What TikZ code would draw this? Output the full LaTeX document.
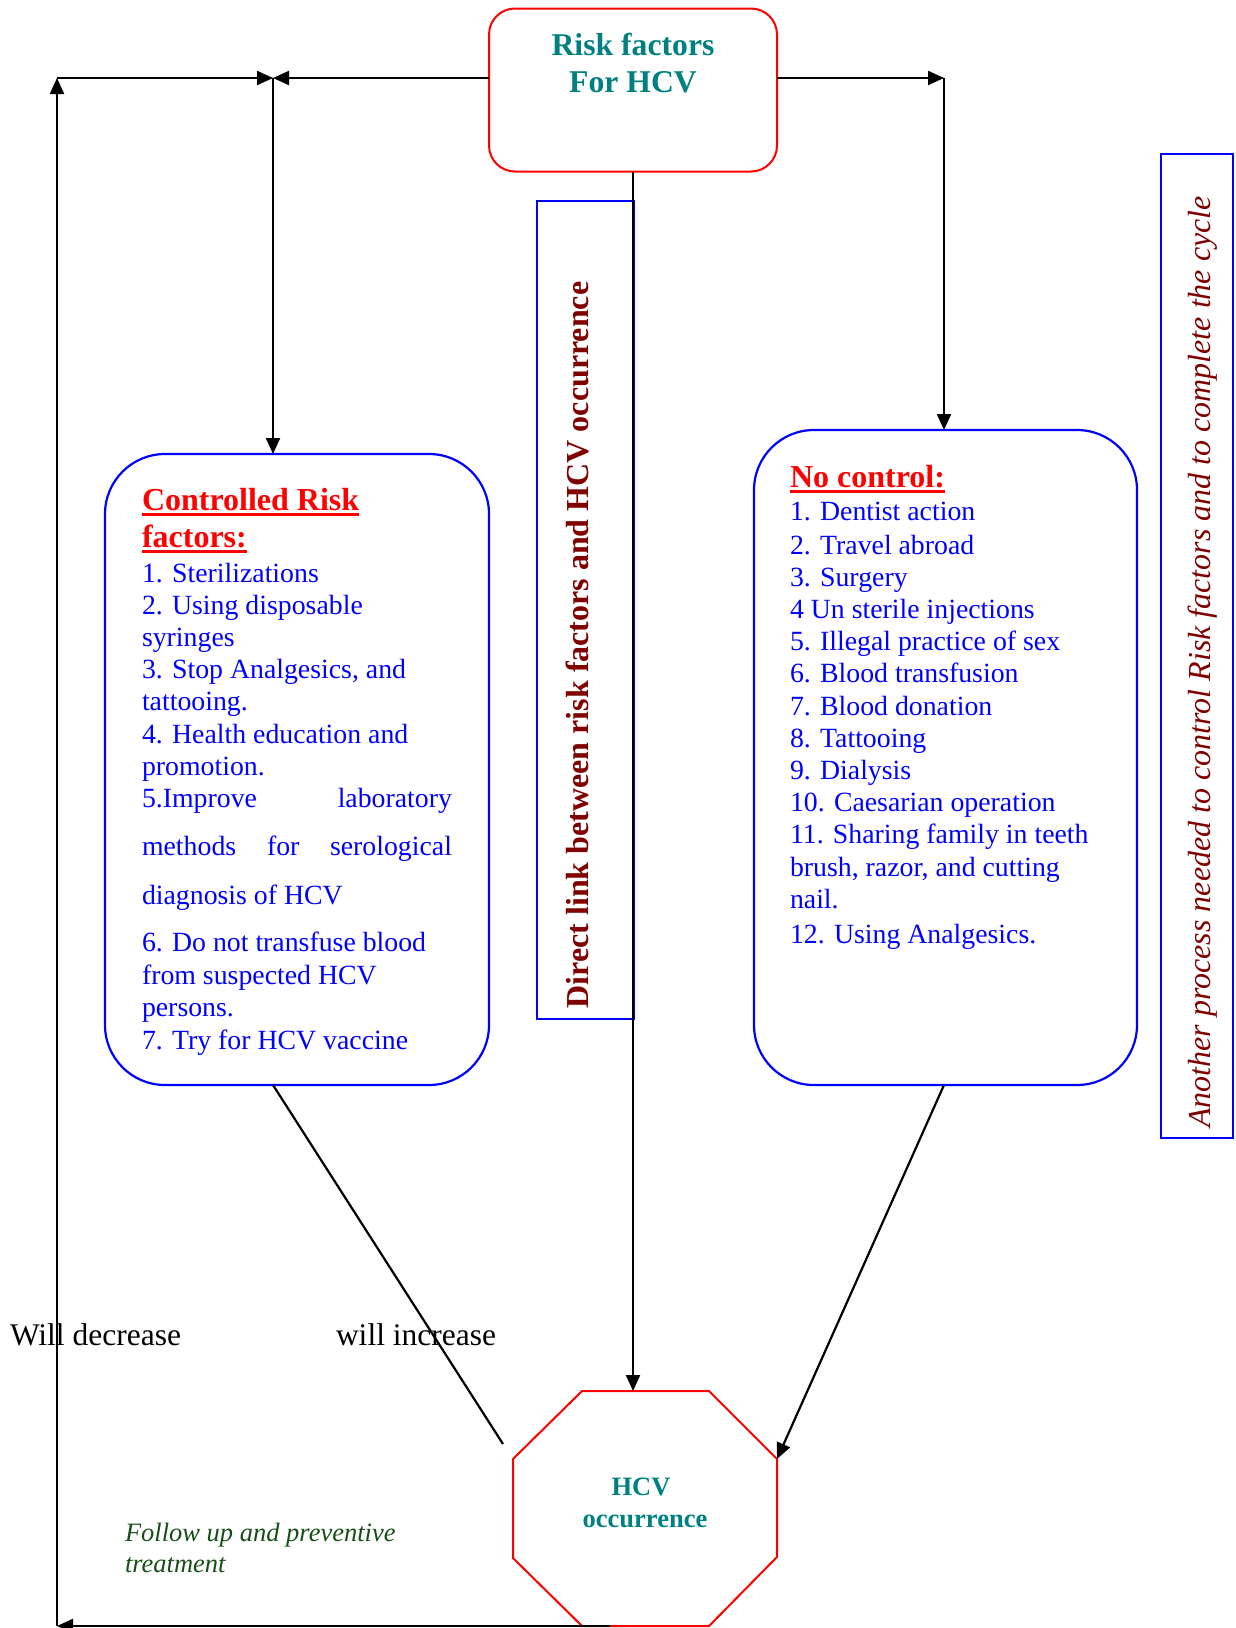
\documentclass[tikz,border=0pt]{standalone}
\usepackage{fontspec}
\setmainfont{Liberation Serif}
\usetikzlibrary{arrows.meta}
\definecolor{hcvteal}{RGB}{0,128,128}
\definecolor{hcvblue}{RGB}{0,0,255}
\definecolor{hcvred}{RGB}{255,0,0}
\definecolor{hcvdred}{RGB}{128,0,0}
\definecolor{hcvgreen}{RGB}{22,78,22}
\begin{document}
\begin{tikzpicture}[x=1pt,y=-1pt,
  every node/.style={inner sep=0pt, outer sep=0pt},
  conn/.style={line width=2.2pt, draw=black},
  tipped/.style={-{Triangle[length=16pt,width=14pt]}},
  bluebox/.style={draw=hcvblue, line width=2.2pt, rounded corners=60pt},
  redbox/.style={draw=hcvred, line width=2pt},
  fixh/.style={text height=0.7em, text depth=0.25em},
  dn/.style={yshift=-7.5pt},
  item/.style={fixh, dn, anchor=west, text=hcvblue, font=\fontsize{27.8}{32}\selectfont},
  itemr/.style={fixh, dn, anchor=east, text=hcvblue, font=\fontsize{27.8}{32}\selectfont},
  head/.style={fixh, dn, anchor=west, text=hcvred, font=\fontsize{32}{37}\selectfont\bfseries},
  tealtxt/.style={fixh, dn, text=hcvteal, font=\fontsize{31.7}{37}\selectfont\bfseries},
  occtxt/.style={fixh, dn, text=hcvteal, font=\fontsize{26.5}{32}\selectfont\bfseries},
  plain/.style={fixh, dn, anchor=west, text=black, font=\fontsize{31.5}{36}\selectfont},
  greentxt/.style={anchor=base west, text=hcvgreen, font=\fontsize{26.5}{31}\selectfont\itshape},
]
\useasboundingbox (0,0) rectangle (1235,1628);

% ---- boxes ----
\node[redbox, rounded corners=26pt, minimum width=288pt, minimum height=163pt] (top) at (633,90) {};
\node[bluebox, minimum width=384pt, minimum height=631pt] (lbox) at (297,769.5) {};
\node[bluebox, minimum width=383pt, minimum height=655pt] (rbox) at (945.5,757.5) {};
\node[draw=hcvblue, line width=2.2pt, minimum width=97pt, minimum height=818pt] (dlink) at (585.5,610) {};
\node[draw=hcvblue, line width=2.2pt, minimum width=72pt, minimum height=984pt] (another) at (1197,646) {};

% ---- octagon ----
\coordinate (occN) at (633,1391);
\coordinate (occNE) at (777,1459);
\coordinate (occS) at (610,1626);
\draw[redbox] (582,1391) -- (709,1391) -- (777,1459) -- (777,1557) -- (709,1626)
  -- (582,1626) -- (513,1558) -- (513,1459) -- cycle;
\node[occtxt] (occ1) at (641,1486) {HCV};
\node[occtxt] (occ2) at (645,1518) {occurrence};

% ---- top box text ----
\node[tealtxt] (rf1) at (633,46) {Risk factors};
\node[tealtxt] (rf2) at (633,83) {For HCV};

% ---- vertical labels ----
\node[rotate=90, text=hcvdred, font=\fontsize{32}{36}\selectfont\bfseries, fixh] (dlinktxt) at (586,645)
  {Direct link between risk factors and HCV occurrence};
\node[rotate=90, text=hcvdred, font=\fontsize{32}{36}\selectfont\itshape, fixh] (anothertxt) at (1208,662)
  {Another process needed to control Risk factors and to complete the cycle};

% ---- left box text ----
\node[head] (lh1) at (142,500.7) {Controlled Risk};
\node[head] (lh2) at (142,538.0) {factors:};
\draw[hcvred, line width=2.6pt] ([yshift=-4pt]lh1.base west) -- ([yshift=-4pt]lh1.base east);
\draw[hcvred, line width=2.6pt] ([yshift=-4pt]lh2.base west) -- ([yshift=-4pt]lh2.base east);
\node[item] (l1) at (142,572.3) {1. Sterilizations};
\node[item] (l2) at (142,604.5) {2. Using disposable};
\node[item] (l3) at (142,636.7) {syringes};
\node[item] (l4) at (142,668.9) {3. Stop Analgesics, and};
\node[item] (l5) at (142,701.1) {tattooing.};
\node[item] (l6) at (142,733.3) {4. Health education and};
\node[item] (l7) at (142,765.5) {promotion.};
\node[item] (l8a) at (142,797.7) {5.Improve};
\node[itemr] (l8b) at (452,797.7) {laboratory};
\node[item] (l9a) at (142,845.5) {methods};
\node[item] (l9b) at (267,845.5) {for};
\node[itemr] (l9c) at (452,845.5) {serological};
\node[item] (l10) at (142,894.3) {diagnosis of HCV};
\node[item] (l11) at (142,942.1) {6. Do not transfuse blood};
\node[item] (l12) at (142,974.3) {from suspected HCV};
\node[item] (l13) at (142,1006.5) {persons.};
\node[item] (l14) at (142,1039.7) {7. Try for HCV vaccine};

% ---- right box text ----
\node[head] (rh) at (790,477.8) {No control:};
\draw[hcvred, line width=2.6pt] ([yshift=-4pt]rh.base west) -- ([yshift=-4pt]rh.base east);
\node[item] (r1) at (790,511.0) {1. Dentist action};
\node[item] (r2) at (790,544.3) {2. Travel abroad};
\node[item] (r3) at (790,576.5) {3. Surgery};
\node[item] (r4) at (790,608.7) {4 Un sterile injections};
\node[item] (r5) at (790,640.9) {5. Illegal practice of sex};
\node[item] (r6) at (790,673.1) {6. Blood transfusion};
\node[item] (r7) at (790,705.3) {7. Blood donation};
\node[item] (r8) at (790,737.5) {8. Tattooing};
\node[item] (r9) at (790,769.7) {9. Dialysis};
\node[item] (r10) at (790,801.9) {10. Caesarian operation};
\node[item] (r11) at (790,834.1) {11. Sharing family in teeth};
\node[item] (r12) at (790,866.3) {brush, razor, and cutting};
\node[item] (r13) at (790,898.5) {nail.};
\node[item] (r14) at (790,933.8) {12. Using Analgesics.};

% ---- free labels ----
\node[plain] (dec) at (10,1335.8) {Will decrease};
\node[plain] (inc) at (336,1335.8) {will increase};
\node[greentxt] (fu1) at (125,1541) {Follow up and preventive};
\node[greentxt] (fu2) at (125,1572) {treatment};

% ---- connectors ----
\coordinate (tl) at (273,78);
\coordinate (tr) at (944,78);
\coordinate (ol) at (57,78);
\coordinate (obl) at (57,1626);
\coordinate (incEnd) at (503,1444);

\draw[conn,tipped] ([yshift=12pt]top.west) -- (tl);
\draw[conn,tipped] (ol) -- (tl);
\draw[conn,tipped] (tl) -- (tl |- lbox.north);
\draw[conn,tipped] ([yshift=12pt]top.east) -- (tr);
\draw[conn,tipped] (tr) -- (tr |- rbox.north);
\draw[conn,tipped] (top.south) -- (occN);
\draw[conn] (tl |- lbox.south) -- (incEnd);
\draw[conn,tipped] (tr |- rbox.south) -- (occNE);
\draw[conn,tipped] (occS) -- (obl);
\draw[conn,tipped] (obl) -- (ol);
\end{tikzpicture}
\end{document}
